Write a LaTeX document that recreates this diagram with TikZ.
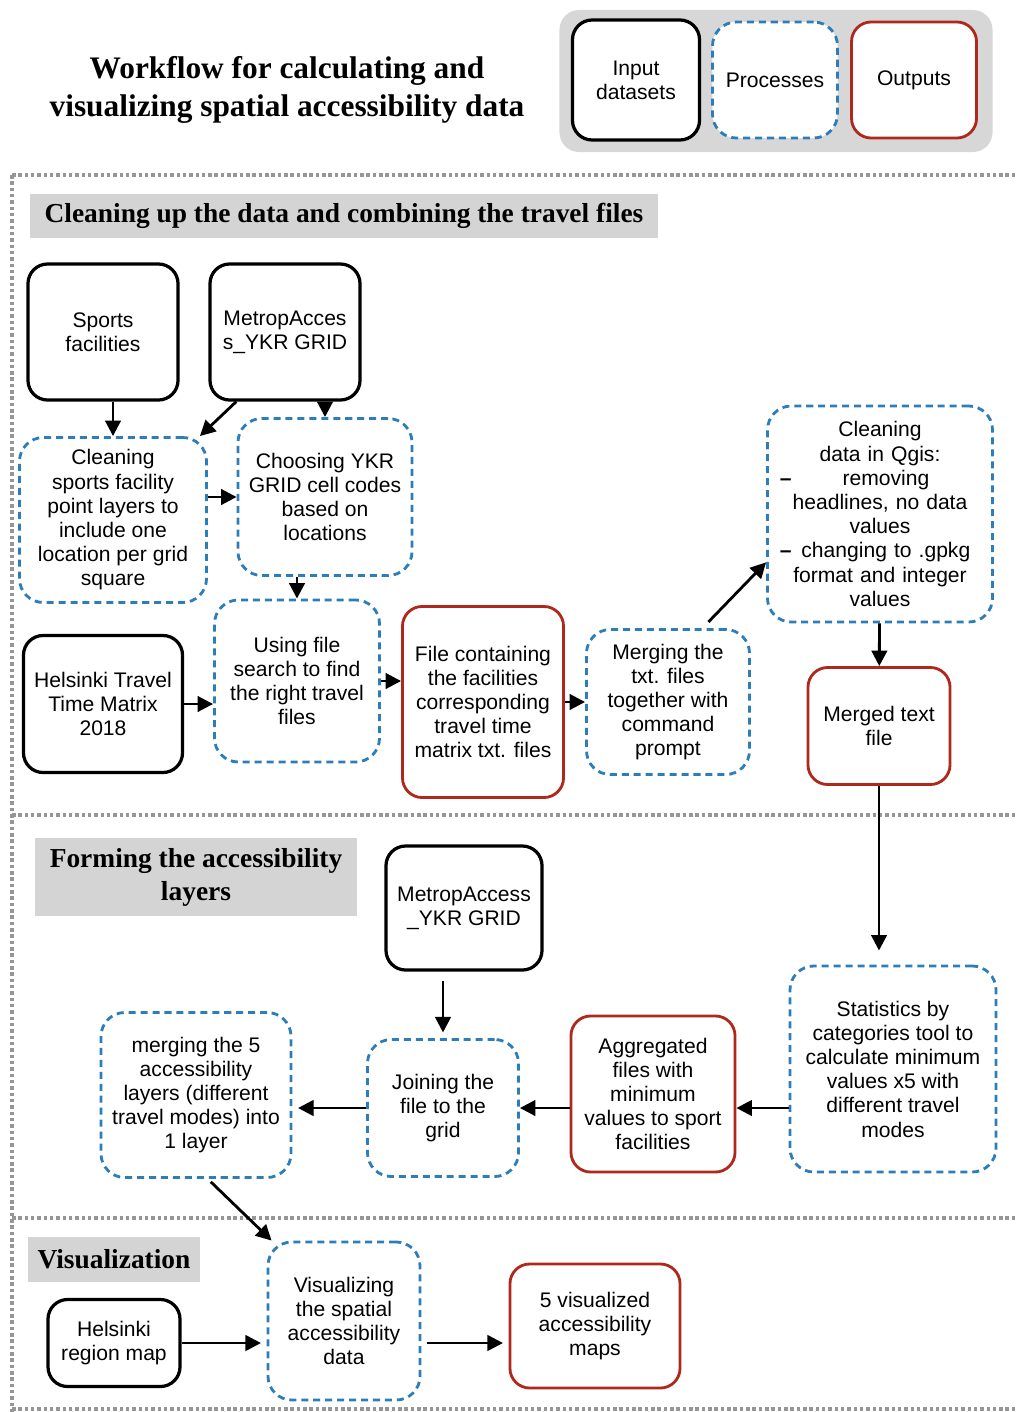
\documentclass[tikz,border=0pt]{standalone}
\usepackage{fontspec}
\setmainfont{Liberation Serif}
\setsansfont{Liberation Sans}
\usetikzlibrary{arrows.meta}
\definecolor{procblue}{RGB}{45,125,185}
\definecolor{outred}{RGB}{175,40,28}
\definecolor{headgray}{RGB}{212,212,212}
\definecolor{legendgray}{RGB}{215,215,215}
\definecolor{sepgray}{RGB}{150,150,150}
\newcommand{\boxfont}{\sffamily\fontsize{15}{17.2}\selectfont}
\newcommand{\headfont}{\bfseries\fontsize{19.5}{23.5}\selectfont}
\newcommand{\titlefont}{\bfseries\fontsize{22.3}{26.5}\selectfont}

\begin{document}
\begin{tikzpicture}[x=0.025cm, y=-0.025cm,
  inbox/.style={draw=black, line width=2.3pt, rounded corners=14pt, fill=white, align=center, inner sep=2pt, font=\boxfont},
  procbox/.style={draw=procblue, line width=2pt, dash pattern=on 5pt off 3.5pt, rounded corners=17pt, fill=white, align=center, inner sep=2pt, font=\boxfont},
  outbox/.style={draw=outred, line width=2pt, rounded corners=14pt, fill=white, align=center, inner sep=2pt, font=\boxfont},
  head/.style={fill=headgray, align=center, font=\headfont},
  sep/.style={draw=sepgray, line width=3pt, dash pattern=on 2.5pt off 2pt},
  arr/.style={-{Triangle[length=11pt,width=11pt]}, line width=2pt}
]
\useasboundingbox (0,0) rectangle (1018,1412);

% title and legend
\node[font=\titlefont, align=center] (title) at (287,90) {Workflow for calculating and\\visualizing spatial accessibility data};
\node[fill=legendgray, rounded corners=14pt, minimum width=10.825cm, minimum height=3.55cm] (legend) at (776,81) {};
\node[inbox, minimum width=3.175cm, minimum height=3cm] (legin) at (636,80) {Input\\datasets};
\node[procbox, minimum width=3.125cm, minimum height=2.9cm] (legproc) at (775,80) {Processes};
\node[outbox, minimum width=3.125cm, minimum height=2.9cm] (legout) at (914,80) {Outputs};

% section frame
\draw[sep] (12,175) -- (1018,175);
\draw[sep] (12,815) -- (1018,815);
\draw[sep] (12,1218) -- (1018,1218);
\draw[sep] (12,1409) -- (1018,1409);
\draw[sep] (12,175) -- (12,1412);

% cleaning up the data
\node[head, minimum width=15.7cm, minimum height=1.075cm] (sec1) at (344,216) {Cleaning up the data and combining the travel files};
\node[inbox, minimum width=3.75cm, minimum height=3.4cm] (sports) at (103,332) {Sports\\facilities};
\node[inbox, minimum width=3.75cm, minimum height=3.4cm] (metro1) at (285,332) {MetropAcces\\s\_YKR GRID};
\node[procbox, minimum width=4.675cm, minimum height=4.125cm] (cleansp) at (113,520) {Cleaning\\sports facility\\point layers to\\include one\\location per grid\\square};
\node[procbox, minimum width=4.35cm, minimum height=3.925cm] (choose) at (325,497) {Choosing YKR\\GRID cell codes\\based on\\locations};
\node[inbox, minimum width=3.975cm, minimum height=3.425cm] (hel) at (103,704) {Helsinki Travel\\Time Matrix\\2018};
\node[procbox, minimum width=4.125cm, minimum height=4.05cm] (using) at (297,681) {Using file\\search to find\\the right travel\\files};
\node[outbox, minimum width=4.025cm, minimum height=4.775cm] (filec) at (483,702) {File containing\\the facilities\\corresponding\\travel time\\matrix txt. files};
\node[procbox, minimum width=4.075cm, minimum height=3.625cm] (merging) at (668,702) {Merging the\\txt. files\\together with\\command\\prompt};
\node[procbox, minimum width=5.625cm, minimum height=5.4cm, text width=5cm] (qgis) at (880,514) {Cleaning\\data in Qgis:\\\textbf{--}\hfill removing\hfill\mbox{}\\headlines, no data\\values\\\textbf{--}\hfill changing to .gpkg\hfill\mbox{}\\format and integer\\values};
\node[outbox, minimum width=3.55cm, minimum height=2.925cm] (merged) at (879,726) {Merged text\\file};

\draw[arr] (sports.south -| cleansp) -- (cleansp);
\draw[arr] (metro1.235) -- (cleansp.44);
\draw[arr] (metro1.south -| choose) -- (choose);
\draw[arr] (cleansp.east |- choose) -- (choose);
\draw[arr] (choose.south -| using) -- (using);
\draw[arr] (hel.east) -- (hel.east -| using.west);
\draw[arr] (using.east) -- (using.east -| filec.west);
\draw[arr] (filec.east) -- (filec.east -| merging.west);
\draw[arr, shorten <=6pt] (merging.65) -- (qgis.203);
\draw[arr] (qgis) -- (merged);

% forming the accessibility layers
\node[head, minimum width=8.05cm, minimum height=1.95cm] (sec2) at (196,877) {Forming the accessibility\\layers};
\node[inbox, minimum width=3.9cm, minimum height=3.1cm] (metro2) at (464,908) {MetropAccess\\\_YKR GRID};
\node[procbox, minimum width=5.15cm, minimum height=5.15cm] (stats) at (893,1069) {Statistics by\\categories tool to\\calculate minimum\\values x5 with\\different travel\\modes};
\node[outbox, minimum width=4.1cm, minimum height=3.9cm] (aggr) at (653,1094) {Aggregated\\files with\\minimum\\values to sport\\facilities};
\node[procbox, minimum width=3.775cm, minimum height=3.425cm] (join) at (443,1108) {Joining the\\file to the\\grid};
\node[procbox, minimum width=4.75cm, minimum height=4.125cm] (merge5) at (196,1095) {merging the 5\\accessibility\\layers (different\\travel modes) into\\1 layer};

\draw[arr, shorten >=10pt] (merged) -- (merged |- stats.north);
\draw[arr, shorten <=7pt, shorten >=4pt] (metro2.south -| join) -- (join);
\draw[arr] (stats.west |- join) -- (aggr.east |- join);
\draw[arr] (aggr.west |- join) -- (join);
\draw[arr, shorten >=4pt] (join.west) -- (join.west -| merge5.east);

% visualization
\node[head, minimum width=4.3cm, minimum height=1.125cm] (sec3) at (114,1259) {Visualization};
\node[inbox, minimum width=3.3cm, minimum height=2.175cm] (helmap) at (114,1343) {Helsinki\\region map};
\node[procbox, minimum width=3.8cm, minimum height=3.95cm] (vis) at (344,1321) {Visualizing\\the spatial\\accessibility\\data};
\node[outbox, minimum width=4.25cm, minimum height=3.1cm] (maps) at (595,1326) {5 visualized\\accessibility\\maps};

\draw[arr, shorten <=3pt] (merge5.278) -- (vis.132);
\draw[arr, shorten >=4pt] (helmap.east) -- (helmap.east -| vis.west);
\draw[arr, shorten <=4pt, shorten >=4pt] (vis.east |- helmap) -- (maps.west |- helmap);
\end{tikzpicture}
\end{document}
